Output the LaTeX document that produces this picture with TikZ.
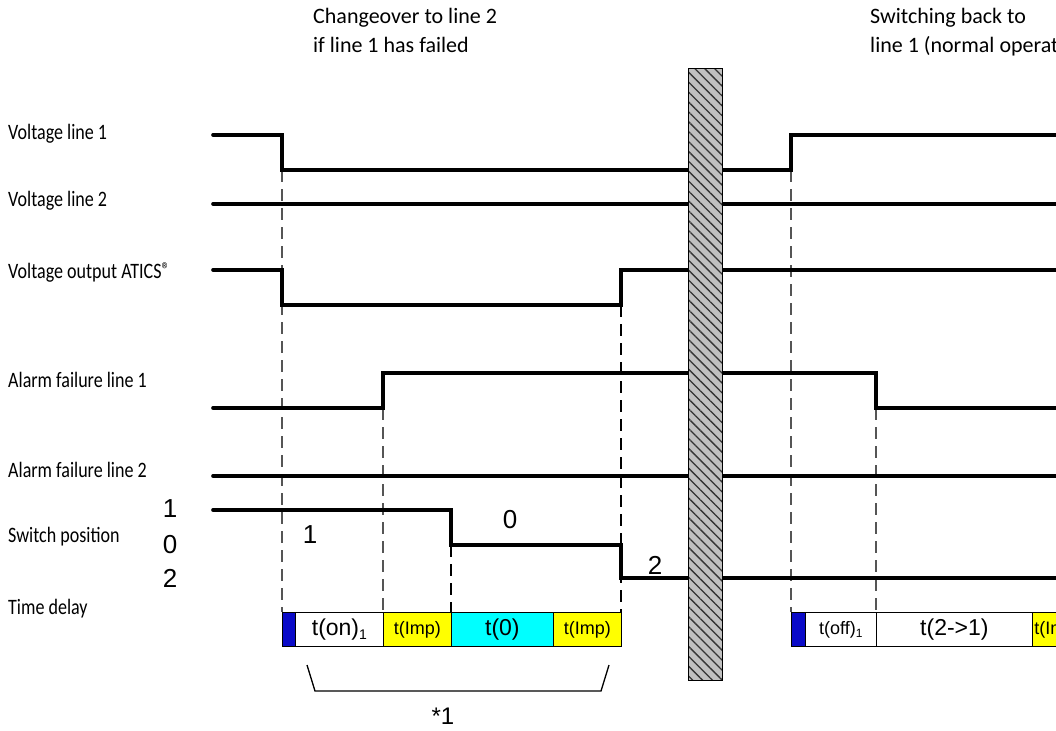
\documentclass[tikz,border=0pt]{standalone}
\usepackage{fontspec}
\setmainfont{Liberation Sans}
\newfontfamily\myr{Carlito}
\newfontfamily\myrc[FakeStretch=0.82]{Carlito}
\usetikzlibrary{patterns.meta}
\definecolor{cyanbox}{RGB}{0,255,255}
\definecolor{yellowbox}{RGB}{255,255,0}
\definecolor{bluebox}{RGB}{10,10,200}
\definecolor{dashgray}{RGB}{85,85,85}
\definecolor{bargray}{RGB}{192,192,192}
\begin{document}
\begin{tikzpicture}[x=1pt,y=-1pt,
  signal/.style={line width=3.6pt, line cap=round, line join=miter},
  guide/.style={dashgray, line width=2pt, dash pattern=on 12pt off 7pt},
  guideb/.style={black, line width=2.6pt, dash pattern=on 12pt off 7pt},
  lbl/.style={anchor=base west, inner sep=0pt, font=\myrc\fontsize{22}{22}\selectfont},
  ttl/.style={anchor=base west, inner sep=0pt, font=\myr\fontsize{22}{22}\selectfont},
  digit/.style={inner sep=0pt, font=\fontsize{26}{26}\selectfont},
  cell/.style={draw=black, line width=0.8pt, inner sep=0pt, minimum height=34pt, anchor=north west},
  big/.style={font=\fontsize{23}{23}\selectfont},
  small/.style={font=\fontsize{18}{18}\selectfont},
]
\path[use as bounding box] (0,0) rectangle (1056,730);
\clip (0,0) rectangle (1056,730);

% guide lines
\draw[guide]  (282,170) -- (282,612);
\draw[guide]  (383,408) -- (383,612);
\draw[guideb] (451,545) -- (451,612);
\draw[guideb] (621,305) -- (621,612);
\draw[guide]  (791,170) -- (791,612);
\draw[guide]  (876,408) -- (876,612);

% signals
\draw[signal] (213,135) -- (282,135) -- (282,170) -- (791,170) -- (791,135) -- (1070,135);
\draw[signal] (213,204) -- (1070,204);
\draw[signal] (213,270) -- (282,270) -- (282,305) -- (621,305) -- (621,270) -- (1070,270);
\draw[signal] (213,408) -- (383,408) -- (383,373) -- (876,373) -- (876,408) -- (1070,408);
\draw[signal] (213,476) -- (1070,476);
\draw[signal] (213,510) -- (451,510) -- (451,545) -- (621,545) -- (621,578) -- (1070,578);

% hatched interruption bar
\node[draw=black, line width=1pt, minimum width=34pt, minimum height=612pt, inner sep=0pt,
      anchor=north west, preaction={fill=bargray},
      pattern={Lines[angle=-45,distance=7pt,line width=1.3pt]}, pattern color=black!80]
      (bar) at (688,68) {};

% labels
\node[lbl] (lv1) at (8,140) {Voltage line 1};
\node[lbl] (lv2) at (8,206) {Voltage line 2};
\node[lbl] (lvo) at (8,278) {Voltage output ATICS{\fontsize{20}{20}\selectfont\raisebox{0.2ex}{®}}};
\node[lbl] (la1) at (8,387) {Alarm failure line 1};
\node[lbl] (la2) at (8,477) {Alarm failure line 2};
\node[lbl] (lsw) at (8,542) {Switch position};
\node[lbl] (ltd) at (8,614) {Time delay};

\node[ttl] (t1a) at (313,24) {Changeover to line 2};
\node[ttl] (t1b) at (313,53) {if line 1 has failed};
\node[ttl] (t2a) at (870,24) {Switching back to};
\node[ttl] (t2b) at (870,53) {line 1 (normal operation)};

% switch digits
\node[digit] (d1) at (170,509) {1};
\node[digit] (d0) at (170,545) {0};
\node[digit] (d2) at (170,578) {2};
\node[digit] (s1) at (310,535) {1};
\node[digit] (s0) at (510,520) {0};
\node[digit] (s2) at (655,565) {2};

% time delay bar, left
\node[cell, fill=bluebox, minimum width=13pt] (b1) at (282,612) {};
\node[cell, minimum width=88pt, big] (c1) at (295,612) {t(on)\raisebox{-0.35ex}{\fontsize{14}{14}\selectfont 1}};
\node[cell, fill=yellowbox, minimum width=68pt, small] (y1) at (383,612) {t(Imp)};
\node[cell, fill=cyanbox, minimum width=102pt, big] (cy) at (451,612) {t(0)};
\node[cell, fill=yellowbox, minimum width=68pt, small] (y2) at (553,612) {t(Imp)};

% time delay bar, right
\node[cell, fill=bluebox, minimum width=14pt] (b2) at (791,612) {};
\node[cell, minimum width=71pt, small] (c2) at (805,612) {t(off)\raisebox{-0.35ex}{\fontsize{12}{12}\selectfont 1}};
\node[cell, minimum width=156pt, big] (c3) at (876,612) {t(2->1)};
\node[cell, fill=yellowbox, inner xsep=2pt, text width=56pt, align=left, small] (y3) at (1032,612) {t(Imp)};

% bracket
\draw[line width=1.3pt] (307,665) -- (315,691) -- (601,691) -- (609,665);
\node[digit, font=\fontsize{24}{24}\selectfont] (star) at (443,716) {*1};
\end{tikzpicture}
\end{document}
